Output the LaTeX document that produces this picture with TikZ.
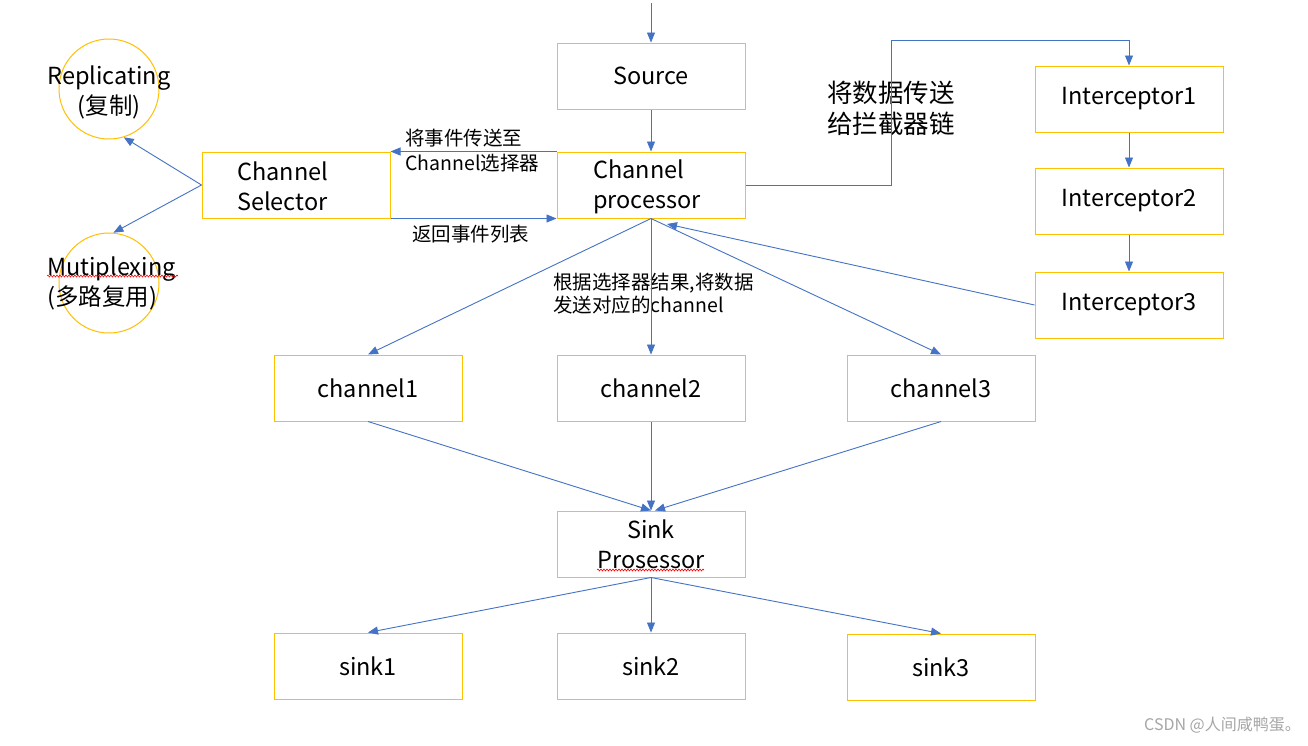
\documentclass[tikz,border=0pt]{standalone}
\usepackage{fontspec}
\setmainfont{Noto Sans CJK SC}
\usetikzlibrary{arrows.meta,decorations.pathmorphing}
\definecolor{boxor}{RGB}{255,192,0}
\definecolor{lnblue}{RGB}{68,114,196}
\tikzset{
  box/.style={draw=boxor, line width=1pt, minimum width=188pt, minimum height=66pt, inner sep=0pt, align=center, font=\fontsize{23.5}{30}\selectfont},
  circ/.style={draw=boxor, line width=1pt, circle, minimum size=100pt, inner sep=0pt},
  txt/.style={inner sep=0pt, font=\fontsize{23.5}{30}\selectfont},
  lbl/.style={inner sep=0pt, font=\fontsize{19.5}{25}\selectfont},
  arr/.style={draw=lnblue, line width=0.9pt, -{Triangle[length=10pt,width=8pt]}},
  ln/.style={draw=lnblue, line width=0.9pt},
  wavy/.style={draw=red, line width=0.6pt, decorate, decoration={snake, amplitude=1pt, segment length=3pt}}
}
\begin{document}
\begin{tikzpicture}[x=1pt,y=-1pt]
\useasboundingbox[fill=white] (0,0) rectangle (1308,745);
% boxes
\node[box] (src) at (651,76) {Source};
\node[box] (proc) at (651,185) {};
\node[txt, anchor=west, align=left] (proct) at (593,187) {Channel\\processor};
\node[box] (sel) at (296,185) {};
\node[txt, anchor=west, align=left] (selt) at (237,186) {Channel\\Selector};
\node[circ] (rep) at (109,89) {};
\node[txt, align=center] (rept) at (109,92) {Replicating\\(复制)};
\node[circ] (mux) at (109,283) {};
\node[txt, anchor=west, align=left] (muxt) at (47,283) {Mutiplexing\\(多路复用)};
\node[box] (i1) at (1129,99) {Interceptor1};
\node[box] (i2) at (1129,201) {Interceptor2};
\node[box] (i3) at (1129,305) {Interceptor3};
\node[box] (c1) at (368,388) {channel1};
\node[box] (c2) at (651,388) {channel2};
\node[box] (c3) at (941,388) {channel3};
\node[box] (sp) at (651,544) {Sink\\Prosessor};
\node[box] (s1) at (368,666) {sink1};
\node[box] (s2) at (651,666) {sink2};
\node[box] (s3) at (941,667) {sink3};
% labels
\node[lbl, anchor=west, align=left] (l1) at (405,151) {将事件传送至\\Channel选择器};
\node[lbl, anchor=west] (l2) at (412,234) {返回事件列表};
\node[txt, anchor=west, align=left, font=\fontsize{25.5}{31}\selectfont] (l3) at (827,108) {将数据传送\\给拦截器链};
\node[lbl, anchor=west, align=left, font=\fontsize{19.5}{23}\selectfont] (l4) at (553,294) {根据选择器结果,将数据\\发送对应的channel};
\node[anchor=east, inner sep=0pt, text=gray!70, font=\fontsize{16}{18}\selectfont] (wm) at (1301,725) {CSDN @人间咸鸭蛋。};
% spell-check underlines
\draw[wavy] (47,276) -- (178,276);
\draw[wavy] (597,570) -- (704,570);
% connectors
\coordinate (in) at (651,3);
\coordinate (k1) at (891,40);
\coordinate (pin) at (667,224);
\draw[arr] (in) -- (src);
\draw[arr] (src) -- (proc);
\draw[arr] (proc.north west) -- (sel.north east);
\draw[arr] (sel.south east) -- (proc.south west);
\draw[arr] (sel.west) -- (rep.-73);
\draw[arr] (sel.west) -- (mux.85);
\draw[arr] (proc.east) -| (k1) -| (i1.north);
\draw[arr] (i1) -- (i2);
\draw[arr] (i2) -- (i3);
\draw[arr] (i3.west) -- (pin);
\draw[arr] (proc.south) -- (c1.north);
\draw[arr] (proc.south) -- (c2.north);
\draw[arr] (proc.south) -- (c3.north);
\draw[arr] (c1.south) -- (sp.north);
\draw[arr] (c2.south) -- (sp.north);
\draw[arr] (c3.south) -- ([xshift=4pt]sp.north);
\draw[arr] (sp.south) -- (s1.north);
\draw[arr] (sp.south) -- (s2.north);
\draw[arr] (sp.south) -- (s3.north);
\end{tikzpicture}
\end{document}
